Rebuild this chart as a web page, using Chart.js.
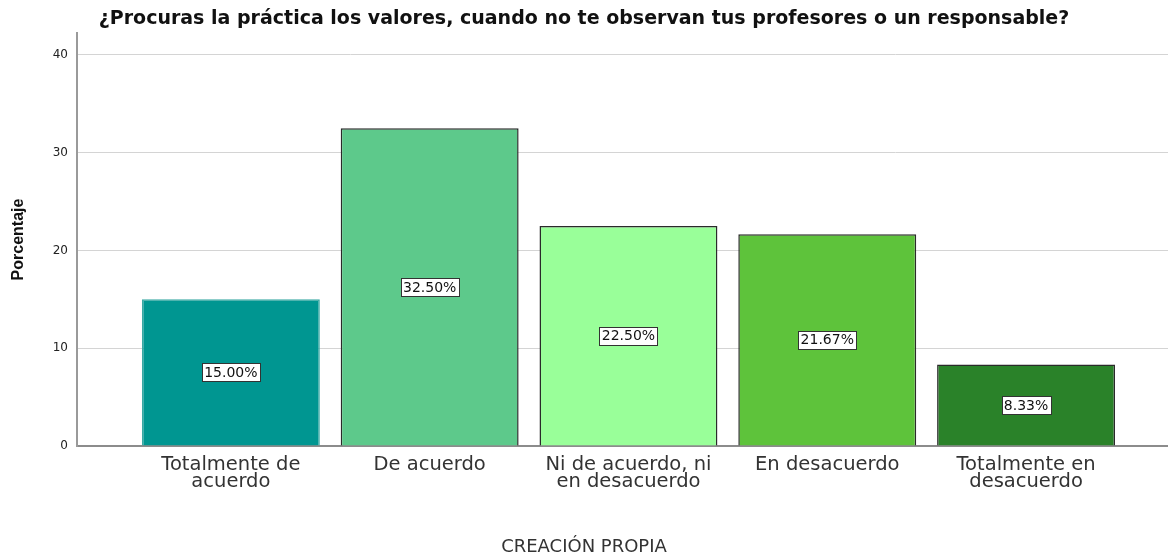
<!DOCTYPE html>
<html>
<head>
<meta charset="utf-8">
<script src="https://cdn.jsdelivr.net/npm/chart.js@4"></script>
<style>
  html, body { margin: 0; padding: 0; background: #fff; }
  #wrap { width: 1168px; height: 556px; }
</style>
</head>
<body>
<div id="wrap"><canvas id="chart"></canvas></div>
<script>
// Data
const categories = [
    ['Totalmente de', 'acuerdo'],
    'De acuerdo',
    ['Ni de acuerdo, ni', 'en desacuerdo'],
    'En desacuerdo',
    ['Totalmente en', 'desacuerdo']
];
const percentages = [15.00, 32.50, 22.50, 21.67, 8.33];
const yTicks = [0, 10, 20, 30, 40];
const barColors = ['#009691', '#5dc98b', '#99ff99', '#5ec33b', '#2a8229'];
const barBorders = ['#3aa9a4', '#2a2a2a', '#2a2a2a', '#2a2a2a', '#2a2a2a'];

// White boxed value labels in the middle of each bar
const boxLabels = {
    id: 'boxLabels',
    afterDatasetsDraw(chart) {
        const ctx = chart.ctx;
        const meta = chart.getDatasetMeta(0);
        ctx.save();
        ctx.font = '14px "DejaVu Sans", sans-serif';
        ctx.textAlign = 'center';
        ctx.textBaseline = 'middle';
        meta.data.forEach((bar, i) => {
            const { x, y, base } = bar.getProps(['x', 'y', 'base'], true);
            const mid = (y + base) / 2;
            const text = percentages[i].toFixed(2) + '%';
            const w = Math.round(ctx.measureText(text).width + 5);
            const h = 18;
            const left = Math.round(x - w / 2) + 0.5;
            const top = Math.round(mid - h / 2) + 0.5;
            ctx.fillStyle = '#ffffff';
            ctx.fillRect(left, top, w, h);
            ctx.strokeStyle = '#333333';
            ctx.lineWidth = 1;
            ctx.strokeRect(left, top, w, h);
            ctx.fillStyle = '#111111';
            ctx.fillText(text, x, mid + 1);
        });
        ctx.restore();
    }
};

const ctx = document.getElementById('chart').getContext('2d');
new Chart(ctx, {
    type: 'bar',
    data: {
        datasets: [{
            data: percentages.map((v, i) => ({ x: i, y: v })),
            backgroundColor: barColors,
            borderColor: barBorders,
            borderWidth: 1.5,
            categoryPercentage: 1,
            barPercentage: 0.895
        }]
    },
    options: {
        responsive: true,
        maintainAspectRatio: false,
        animation: false,
        layout: { padding: 0 },
        plugins: {
            legend: { display: false },
            tooltip: { enabled: false },
            title: {
                display: true,
                text: '¿Procuras la práctica los valores, cuando no te observan tus profesores o un responsable?',
                color: '#111',
                font: { family: '"DejaVu Sans", sans-serif', size: 19, weight: 'bold', lineHeight: 1 },
                padding: { top: 10, bottom: 4 }
            },
            subtitle: {
                display: true,
                position: 'bottom',
                text: 'CREACIÓN PROPIA',
                color: '#333',
                font: { family: '"DejaVu Sans", sans-serif', size: 18, lineHeight: 1 },
                padding: { top: 0, bottom: 0 }
            }
        },
        scales: {
            x: {
                type: 'linear',
                offset: false,
                min: -0.774,
                max: 4.714,
                afterBuildTicks: axis => { axis.ticks = categories.map((_, i) => ({ value: i })); },
                afterFit: scale => { scale.height = 92; },
                grid: { display: false, drawTicks: false },
                border: { color: '#8c8c8c', width: 2 },
                ticks: {
                    autoSkip: false,
                    maxRotation: 0,
                    padding: 10,
                    color: '#333',
                    font: { family: '"DejaVu Sans", sans-serif', size: 19.5, lineHeight: 0.88 },
                    callback: v => categories[v]
                }
            },
            y: {
                min: 0,
                max: 42.25,
                afterBuildTicks: axis => { axis.ticks = yTicks.map(v => ({ value: v })); },
                afterFit: scale => { scale.width = 77; },
                grid: { color: '#d4d4d4', lineWidth: 1, drawTicks: false },
                border: { color: '#9a9a9a', width: 2 },
                ticks: {
                    padding: 9,
                    color: '#222',
                    font: { family: '"DejaVu Sans", sans-serif', size: 12 }
                },
                title: {
                    display: true,
                    text: 'Porcentaje',
                    color: '#111',
                    font: { family: '"Liberation Sans", Arial, sans-serif', size: 16, weight: 'bold' },
                    padding: { top: 9, bottom: 0 }
                }
            }
        }
    },
    plugins: [boxLabels]
});
</script>
</body>
</html>
